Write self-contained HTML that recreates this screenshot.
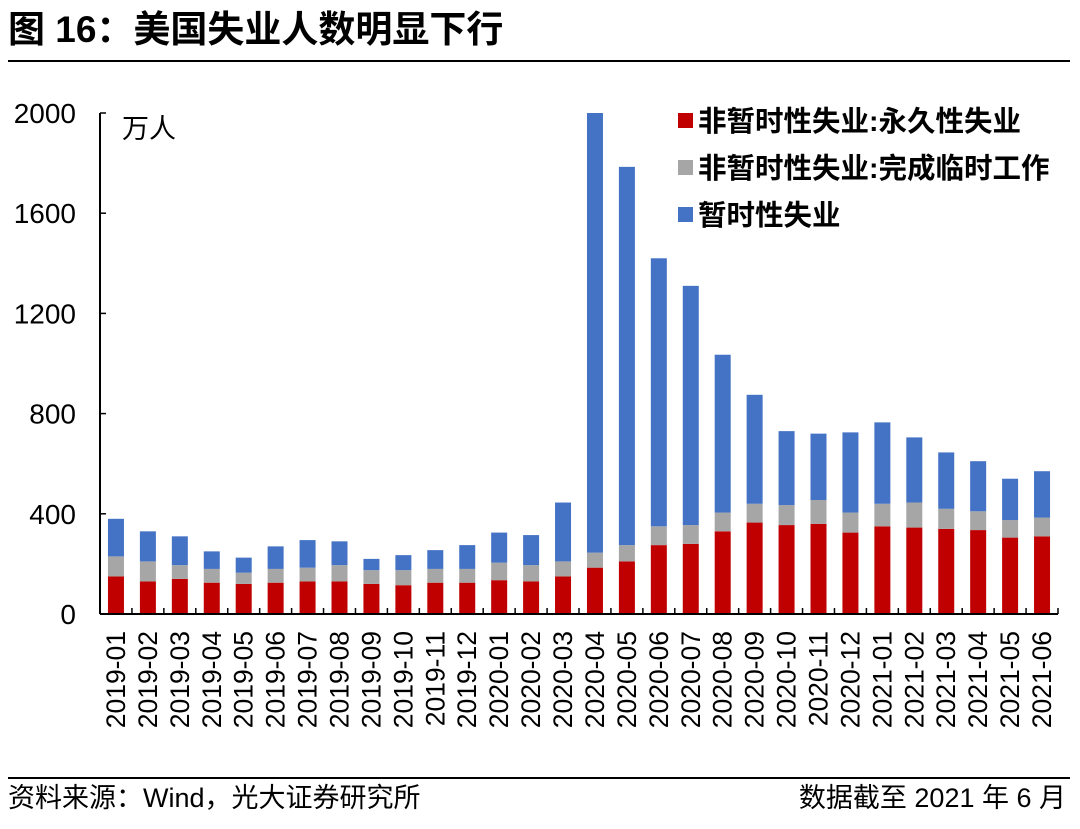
<!DOCTYPE html>
<html><head><meta charset="utf-8"><style>
body{margin:0;background:#fff;}
svg{display:block;font-family:"Liberation Sans","Noto Sans CJK SC",sans-serif;}
</style></head><body>
<svg id="c" width="1080" height="829">
<text x="8" y="42" font-size="37" font-weight="bold" fill="#000">图 16：美国失业人数明显下行</text>
<line x1="8" y1="61" x2="1070" y2="61" stroke="#000" stroke-width="2"/>
<line x1="8" y1="778" x2="1070" y2="778" stroke="#000" stroke-width="2"/>
<text x="8" y="807" font-size="27" fill="#000">资料来源：Wind，光大证券研究所</text>
<text x="1066" y="807" font-size="27" fill="#000" text-anchor="end">数据截至 2021 年 6 月</text>
<text x="122" y="138" font-size="27" fill="#000">万人</text>
<g id="plot"></g>
<g>
<rect x="678" y="113" width="15" height="15" fill="#c00000"/>
<text x="698" y="131" font-size="28.5" font-weight="bold">非暂时性失业:永久性失业</text>
<rect x="678" y="160" width="15" height="15" fill="#a6a6a6"/>
<text x="698" y="178" font-size="28.5" font-weight="bold">非暂时性失业:完成临时工作</text>
<rect x="678" y="207" width="15" height="15" fill="#4472c4"/>
<text x="698" y="225" font-size="28.5" font-weight="bold">暂时性失业</text>
</g>
</svg>
<script>
const categories=["2019-01","2019-02","2019-03","2019-04","2019-05","2019-06","2019-07","2019-08","2019-09","2019-10","2019-11","2019-12","2020-01","2020-02","2020-03","2020-04","2020-05","2020-06","2020-07","2020-08","2020-09","2020-10","2020-11","2020-12","2021-01","2021-02","2021-03","2021-04","2021-05","2021-06"];
const permanent=[150,130,140,125,120,125,130,130,120,115,125,125,135,130,150,185,210,275,280,330,365,355,360,325,350,345,340,335,305,310];
const completed=[80,80,55,55,45,55,55,65,55,60,55,55,70,65,60,60,65,75,75,75,75,80,95,80,90,100,80,75,70,75];
const temporary=[150,120,115,70,60,90,110,95,45,60,75,95,120,120,235,1755,1510,1070,955,630,435,295,265,320,325,260,225,200,165,185];
const yTicks=[0,400,800,1200,1600,2000];
const ns="http://www.w3.org/2000/svg";
const g=document.getElementById('plot');
const x0=100,x1=1058,y0=614,yTop=113,yMax=2000;
const y=v=>y0-(v/yMax)*(y0-yTop);
const step=(x1-x0)/categories.length;
const xc=i=>x0+step*(i+0.5);
function mk(t,a){const e=document.createElementNS(ns,t);for(const k in a)e.setAttribute(k,a[k]);g.appendChild(e);return e;}
const bw=16;
categories.forEach((c,i)=>{
 let base=0;
 [[permanent,'#c00000','permanent'],[completed,'#a6a6a6','completed'],[temporary,'#4472c4','temporary']].forEach(([arr,col,nm])=>{
  const v=arr[i];
  const r=mk('rect',{x:xc(i)-bw/2,y:y(base+v),width:bw,height:y(base)-y(base+v),fill:col});
  
  
  base+=v;
 });
 const t=mk('text',{x:0,y:0,'font-size':26.5,'text-anchor':'end',transform:`translate(${xc(i)+9},${y0+17}) rotate(-90)`});
 t.textContent=c;
 
 
});
for(let i=0;i<=categories.length;i++){
 const tk=mk('line',{x1:x0+step*i,x2:x0+step*i,y1:y0,y2:y0-6,stroke:'#000','stroke-width':1.5});
 
 
}
yTicks.forEach(v=>{
 const t=mk('text',{x:76,y:y(v)+10,'font-size':28,'text-anchor':'end'});
 t.textContent=v;
 
 
 const l=mk('line',{x1:x0,x2:x0+6,y1:y(v),y2:y(v),stroke:'#000','stroke-width':1.5});
 
 
});
const ya=mk('line',{x1:x0,x2:x0,y1:yTop,y2:y0,stroke:'#000','stroke-width':2});


const xa=mk('line',{x1:x0,x2:x1,y1:y0,y2:y0,stroke:'#000','stroke-width':2});


</script>
</body></html>
